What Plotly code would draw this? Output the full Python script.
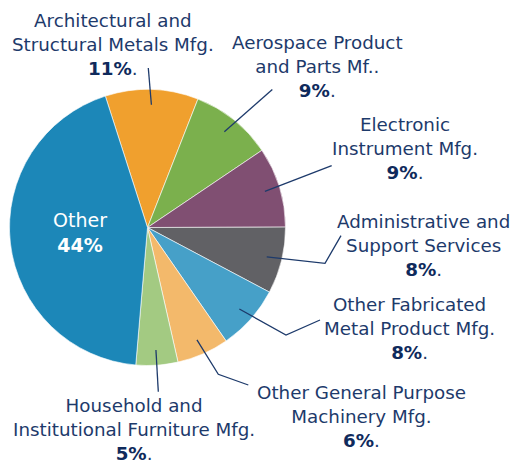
import math
import plotly.graph_objects as go

W, H = 512, 464

# ---- data ----
categories = [
    "Architectural and Structural Metals Mfg.",
    "Aerospace Product and Parts Mf..",
    "Electronic Instrument Mfg.",
    "Administrative and Support Services",
    "Other Fabricated Metal Product Mfg.",
    "Other General Purpose Machinery Mfg.",
    "Household and Institutional Furniture Mfg.",
    "Other",
]
label_lines = [
    ["Architectural and", "Structural Metals Mfg."],
    ["Aerospace Product", "and Parts Mf.."],
    ["Electronic", "Instrument Mfg."],
    ["Administrative and", "Support Services"],
    ["Other Fabricated", "Metal Product Mfg."],
    ["Other General Purpose", "Machinery Mfg."],
    ["Household and", "Institutional Furniture Mfg."],
    ["Other"],
]
values = [10.9, 9.6, 9.4, 7.8, 7.6, 6.1, 4.9, 43.7]
pct_text = ["11%", "9%", "9%", "8%", "8%", "6%", "5%", "44%"]

# ---- styles / layout ----
colors = ["#F0A02E", "#7BB04D", "#804F72", "#616165",
          "#46A0C8", "#F3B96B", "#A3CA82", "#1C87B8"]
CX, CY, R = 147.5, 227.5, 138.0
ROT = -17.8
TEXT = "#1D3A6B"
PCT = "#0F2A5C"
FONT = "DejaVu Sans"

# label centre (px) and leader-line bend points (px, from text end toward pie)
label_pos = [(112.5, 44), (317.5, 66.7), (404.5, 148), (423, 245),
             (409.5, 328.3), (361, 416.7), (134, 429.5), (80, 232)]
leader_pts = [
    [(148.3, 68)],
    [(272.3, 89.5)],
    [(331.7, 165.7)],
    [(341, 235.7), (325, 263.3)],
    [(320, 320), (286, 335)],
    [(248.3, 385), (218.3, 374.3)],
    [(158.3, 391.7)],
    None,
]


def px(x):
    return x / W


def py(y):
    return 1 - y / H


fig = go.Figure(go.Pie(
    labels=categories, values=values, sort=False, direction="clockwise",
    rotation=ROT,
    marker=dict(colors=colors, line=dict(color="rgba(255,255,255,0.75)", width=0.8)),
    textinfo="none", hoverinfo="label+percent", showlegend=False,
    domain=dict(x=[(CX - R) / W, (CX + R) / W], y=[1 - (CY + R) / H, 1 - (CY - R) / H]),
))

total = sum(values)
cum = 0.0
annotations = []
shapes = []
for i, v in enumerate(values):
    mid = ROT + (cum + v / 2) / total * 360.0
    cum += v
    ax = CX + 0.89 * R * math.sin(math.radians(mid))
    ay = CY - 0.89 * R * math.cos(math.radians(mid))
    lx, ly = label_pos[i]
    if leader_pts[i] is None:
        txt = "<br>".join(label_lines[i]) + f"<br><b>{pct_text[i]}</b>"
        annotations.append(dict(x=px(lx), y=py(ly), xref="paper", yref="paper",
                                text=txt, showarrow=False, xanchor="center", yanchor="middle",
                                align="center", font=dict(family=FONT, size=19, color="white")))
        continue
    txt = "<br>".join(label_lines[i]) + f"<br><b><span style='color:{PCT}'>{pct_text[i]}</span></b>."
    annotations.append(dict(x=px(lx), y=py(ly), xref="paper", yref="paper",
                            text=txt, showarrow=False, xanchor="center", yanchor="middle",
                            align="center", borderpad=0,
                            font=dict(family=FONT, size=18.3, color=TEXT)))
    pts = leader_pts[i] + [(ax, ay)]
    path = "M " + " L ".join(f"{px(x):.5f},{py(y):.5f}" for x, y in pts)
    shapes.append(dict(type="path", xref="paper", yref="paper", path=path,
                       line=dict(color=TEXT, width=1.3)))

fig.update_layout(
    width=W, height=H, margin=dict(l=0, r=0, t=0, b=0),
    paper_bgcolor="white", plot_bgcolor="white",
    annotations=annotations, shapes=shapes,
)

fig.write_html("out.html", config={"displayModeBar": False},
               post_script="document.body.style.margin='0';")
